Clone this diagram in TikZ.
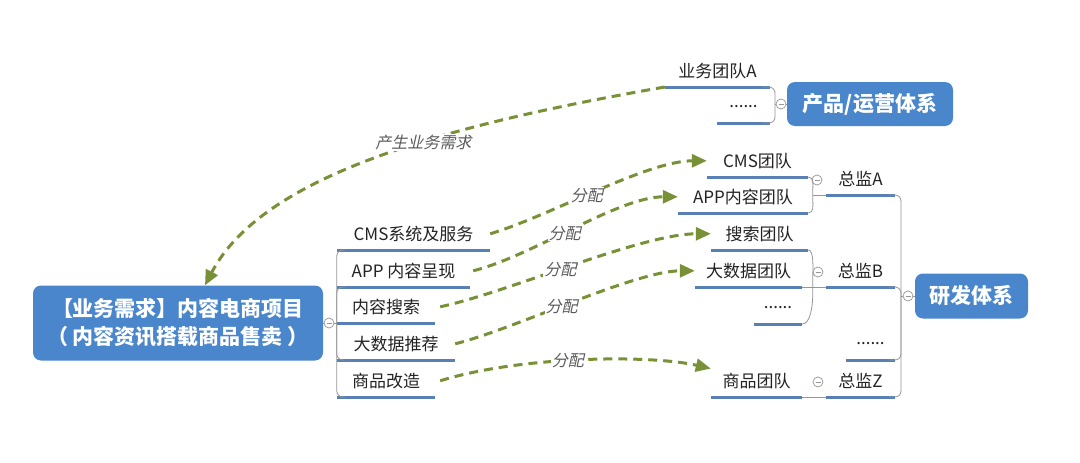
\documentclass[tikz,border=0pt]{standalone}
\usepackage{fontspec}
\usepackage{xcolor}
\usepackage{tikz}
\usetikzlibrary{arrows.meta}
\setmainfont{Noto Sans CJK SC}
\newfontfamily\slantcjk{Noto Sans CJK SC}[FakeSlant=0.22]
\definecolor{mind_blue}{RGB}{74,134,204}
\definecolor{line_blue}{RGB}{88,128,180}
\definecolor{flow_green}{RGB}{120,145,55}
\definecolor{branch_grey}{RGB}{150,150,150}
\definecolor{label_grey}{RGB}{90,90,90}
\definecolor{text_dark}{RGB}{35,35,35}

\begin{document}
\begin{tikzpicture}[x=1pt,y=-1pt,
    hub/.style={fill=mind_blue, rounded corners=8pt, text=white, align=center, inner sep=0pt,
        font=\fontsize{21}{28}\selectfont\bfseries},
    uline/.style={draw=line_blue, line width=3pt},
    topic/.style={anchor=south, inner sep=0pt, minimum height=32pt, text=text_dark,
        font=\fontsize{17}{20}\selectfont,
        append after command={(\tikzlastnode.south west) edge[uline] (\tikzlastnode.south east)}},
    branch/.style={draw=branch_grey, line width=0.8pt, rounded corners=6pt},
    knob/.style={circle, draw=branch_grey, fill=white, line width=0.7pt, minimum size=10pt, inner sep=0pt,
        path picture={\draw[branch_grey, line width=0.7pt]
            ([xshift=-2.5pt]path picture bounding box.center) -- ([xshift=2.5pt]path picture bounding box.center);}},
    flow/.style={draw=flow_green, line width=3pt, dash pattern=on 9pt off 6pt,
        -{Triangle[length=15pt,width=13pt]}},
    tag/.style={fill=white, inner sep=1pt, text=label_grey, font=\fontsize{16}{19}\selectfont\slantcjk}]

    % Canvas
    \path[fill=white] (0,0) rectangle (1080,463);
    \useasboundingbox (0,0) rectangle (1080,463);

    % Project
    \node[hub, minimum width=290pt, minimum height=75pt] (main) at (178,323)
        {【业务需求】内容电商项目\\（ 内容资讯搭载商品售卖 ）};
    \node[knob] (mknob) at (329,323) {};
    \draw[branch] (main.east) -- (mknob.west);

    % Requirements
    \node[topic, minimum width=153pt] (cms) at (413.5,250) {CMS系统及服务};
    \node[topic, minimum width=133pt] (app) at (403.5,287) {APP 内容呈现};
    \node[topic, minimum width=98pt] (search) at (386,323) {内容搜索};
    \node[topic, minimum width=118pt] (bigdata) at (396,360) {大数据推荐};
    \node[topic, minimum width=98pt] (goods) at (386,397) {商品改造};
    \draw[branch] (mknob.east) -- (search.south west);
    \foreach \c in {cms,app,bigdata,goods}
        \draw[branch] (mknob.east -| search.south west) |- ([xshift=8pt]\c.south west);

    % Product / operations
    \node[hub, minimum width=166pt, minimum height=44pt] (prod) at (870,104) {产品/运营体系};
    \node[knob] (pknob) at (781,104) {};
    \coordinate (pspine) at (775,104);
    \node[topic, minimum width=105pt] (teamA) at (717.5,87) {业务团队A};
    \node[topic, minimum width=53pt] (topdots) at (743.5,123) {......};
    \draw[branch] (prod.west) -- (pknob.east);
    \draw[branch] (pknob.west) -- (pspine);
    \foreach \c in {teamA,topdots}
        \draw[branch] (pspine) |- ([xshift=-8pt]\c.south east);

    % R&D
    \node[hub, minimum width=113pt, minimum height=45pt] (rd) at (971.5,296) {研发体系};
    \node[knob] (rknob) at (908,296) {};
    \coordinate (rspine) at (901,296);
    \node[topic, minimum width=69pt] (dirA) at (860.5,195) {总监A};
    \node[topic, minimum width=69pt] (dirB) at (860.5,287) {总监B};
    \node[topic, minimum width=49pt] (rdots) at (870.5,360) {......};
    \node[topic, minimum width=69pt] (dirZ) at (860.5,397) {总监Z};
    \draw[branch] (rd.west) -- (rknob.east);
    \draw[branch] (rknob.west) -- (rspine);
    \foreach \c in {dirA,dirB,rdots,dirZ}
        \draw[branch] (rspine) |- ([xshift=-6pt]\c.south east);

    % Teams
    \node[topic, minimum width=101pt] (cmsT) at (757.5,177) {CMS团队};
    \node[topic, minimum width=130pt] (appT) at (743,213) {APP内容团队};
    \node[topic, minimum width=97pt] (searchT) at (759.5,250) {搜索团队};
    \node[topic, minimum width=107pt] (bigT) at (748.5,287) {大数据团队};
    \node[topic, minimum width=48pt] (bdots) at (778,324) {......};
    \node[topic, minimum width=91pt] (goodsT) at (756.5,397) {商品团队};
    \node[knob] (kA) at (817,180) {};
    \node[knob] (kB) at (818,272) {};
    \node[knob] (kZ) at (818,382) {};
    \draw[branch] (cmsT.south east) .. controls +(6,0) and +(0,-10) .. ([xshift=-13pt]dirA.south west)
        .. controls +(0,10) and +(6,0) .. (appT.south east);
    \draw[branch] ([xshift=-13pt]dirA.south west) -- (dirA.south west);
    \draw[branch] (searchT.south east) .. controls +(6,0) and +(0,-20) .. ([xshift=-13pt]dirB.south west)
        .. controls +(0,20) and +(8,0) .. (bdots.south east);
    \draw[branch] (bigT.south east) -- (dirB.south west);
    \draw[branch] (goodsT.south east) -- (dirZ.south west);

    % Flows
    \draw[flow] (teamA.south west) .. controls +(-200,35) and +(60,-115) .. ([xshift=27pt]main.north)
        node[tag, pos=0.42] {产生业务需求};
    \draw[flow] (cms.east) .. controls +(60,-18) and +(-60,0) .. (cmsT.west) node[tag, pos=0.45] {分配};
    \draw[flow] ([xshift=3pt]app.east) .. controls +(60,-15) and +(-60,0) .. (appT.west) node[tag, pos=0.45] {分配};
    \draw[flow] ([xshift=5pt]search.east) .. controls +(70,-15) and +(-70,0) .. (searchT.west) node[tag, pos=0.45] {分配};
    \draw[flow] (bigdata.east) .. controls +(60,-15) and +(-60,0) .. (bigT.west) node[tag, pos=0.45] {分配};
    \draw[flow] ([xshift=5pt]goods.east) .. controls +(80,-25) and +(-60,-14) .. ([yshift=-4pt]goodsT.north west)
        node[tag, pos=0.45] {分配};
\end{tikzpicture}
\end{document}
